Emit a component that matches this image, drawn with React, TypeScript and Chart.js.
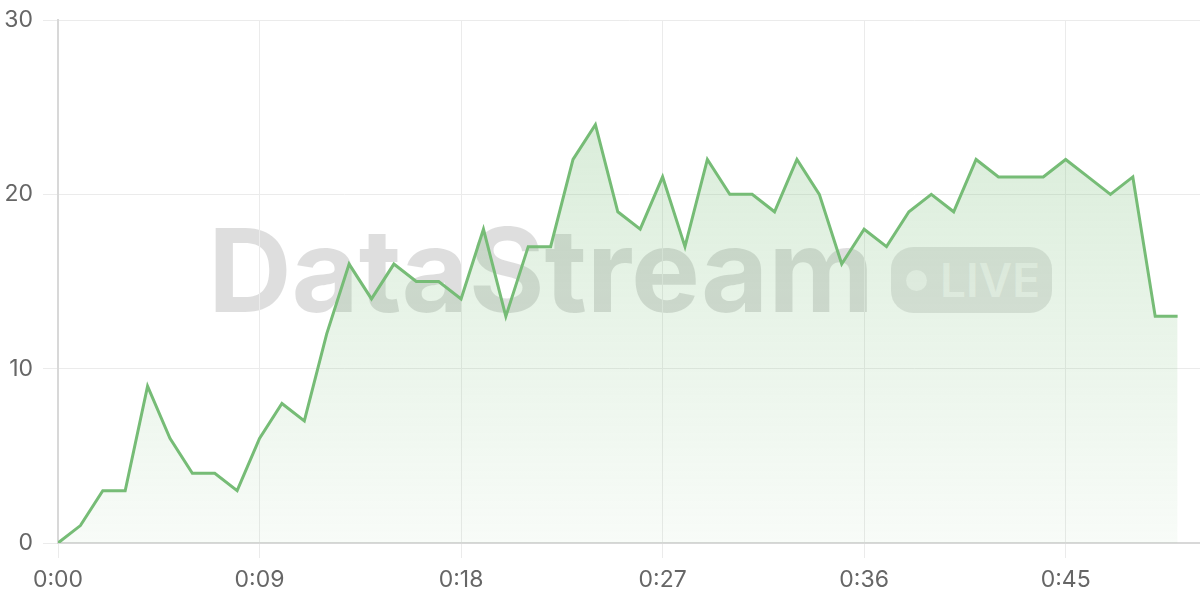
import { useEffect, useRef } from 'react'
import { Chart, registerables } from 'chart.js'

Chart.register(...registerables)

// one sample per second, 0:00 .. 0:50
const seconds = [
  0, 1, 2, 3, 4, 5, 6, 7, 8, 9, 10, 11, 12, 13, 14, 15, 16, 17, 18, 19, 20, 21, 22, 23, 24, 25,
  26, 27, 28, 29, 30, 31, 32, 33, 34, 35, 36, 37, 38, 39, 40, 41, 42, 43, 44, 45, 46, 47, 48, 49, 50,
]
const viewers = [
  0, 1, 3, 3, 9, 6, 4, 4, 3, 6, 8, 7, 12, 16, 14, 16, 15, 15, 14, 18, 13, 17, 17, 22, 24, 19,
  18, 21, 17, 22, 20, 20, 19, 22, 20, 16, 18, 17, 19, 20, 19, 22, 21, 21, 21, 22, 21, 20, 21, 13, 13,
]
const xTicks = [0, 9, 18, 27, 36, 45]
const yTicks = [0, 10, 20, 30]

const LINE = 'rgb(118, 188, 118)'
const GRID = '#ebebeb'
const AXIS = '#d8d8d8'
const TEXT = '#666666'
const FONT = 'Inter, "Noto Sans", sans-serif'

function formatClock(value: number) {
  const m = Math.floor(value / 60)
  const s = value % 60
  return `${m}:${String(s).padStart(2, '0')}`
}

export default function App() {
  const canvasRef = useRef<HTMLCanvasElement>(null)
  const chartRef = useRef<Chart | null>(null)

  useEffect(() => {
    document.body.style.margin = '0'
    if (!canvasRef.current) return
    const ctx = canvasRef.current.getContext('2d')
    if (!ctx) return

    chartRef.current = new Chart(ctx, {
      type: 'line',
      data: {
        datasets: [
          {
            data: seconds.map((s, i) => ({ x: s, y: viewers[i] })),
            borderColor: LINE,
            borderWidth: 3,
            pointRadius: 0,
            tension: 0,
            fill: 'origin',
            backgroundColor(context) {
              const area = context.chart.chartArea
              if (!area) return 'rgba(118, 188, 118, 0.15)'
              const g = context.chart.ctx.createLinearGradient(0, area.top, 0, area.bottom)
              g.addColorStop(0, 'rgba(118, 188, 118, 0.32)')
              g.addColorStop(1, 'rgba(118, 188, 118, 0.05)')
              return g
            },
          },
        ],
      },
      options: {
        responsive: true,
        maintainAspectRatio: false,
        animation: false,
        layout: { padding: 0 },
        plugins: {
          legend: { display: false },
          tooltip: { enabled: false },
        },
        scales: {
          x: {
            type: 'linear',
            min: 0,
            max: 51,
            afterBuildTicks(axis) {
              axis.ticks = xTicks.map((value) => ({ value }))
            },
            afterFit(axis) {
              axis.height = 57
            },
            ticks: {
              color: TEXT,
              padding: 8,
              maxRotation: 0,
              font: { family: FONT, size: 23 },
              callback(value) {
                return formatClock(Number(value))
              },
            },
            grid: { color: GRID, tickLength: 15, tickColor: GRID },
            border: { color: AXIS, width: 2 },
          },
          y: {
            min: 0,
            max: 30,
            afterBuildTicks(axis) {
              axis.ticks = yTicks.map((value) => ({ value }))
            },
            afterFit(axis) {
              axis.width = 58
              axis.paddingTop = 20
            },
            ticks: {
              color: TEXT,
              padding: 10,
              font: { family: FONT, size: 23 },
            },
            grid: { color: GRID, tickLength: 15, tickColor: GRID },
            border: { color: AXIS, width: 2 },
          },
        },
      },
    })

    return () => {
      if (chartRef.current) {
        chartRef.current.destroy()
        chartRef.current = null
      }
    }
  }, [])

  return (
    <div style={{ position: 'absolute', left: 0, top: 0, width: 1200, height: 600, fontFamily: FONT, background: '#fff' }}>
      <div
        style={{
          position: 'absolute',
          left: 208,
          top: 212,
          fontSize: 116,
          fontWeight: 700,
          lineHeight: 1,
          color: 'rgba(0, 0, 0, 0.13)',
          letterSpacing: -0.2,
          whiteSpace: 'nowrap',
        }}
      >
        DataStream
      </div>
      <div
        style={{
          position: 'absolute',
          left: 891,
          top: 247,
          width: 161,
          height: 66,
          borderRadius: 22,
          background: 'rgba(0, 0, 0, 0.1)',
          display: 'flex',
          alignItems: 'center',
          paddingLeft: 15,
          boxSizing: 'border-box',
          color: 'rgba(255, 255, 255, 0.6)',
        }}
      >
        <span style={{ width: 21, height: 21, borderRadius: '50%', background: 'rgba(255, 255, 255, 0.6)', marginRight: 13 }} />
        <span style={{ fontSize: 46, fontWeight: 600, lineHeight: 1 }}>LIVE</span>
      </div>
      <div style={{ position: 'absolute', inset: 0 }}>
        <canvas ref={canvasRef} />
      </div>
    </div>
  )
}
